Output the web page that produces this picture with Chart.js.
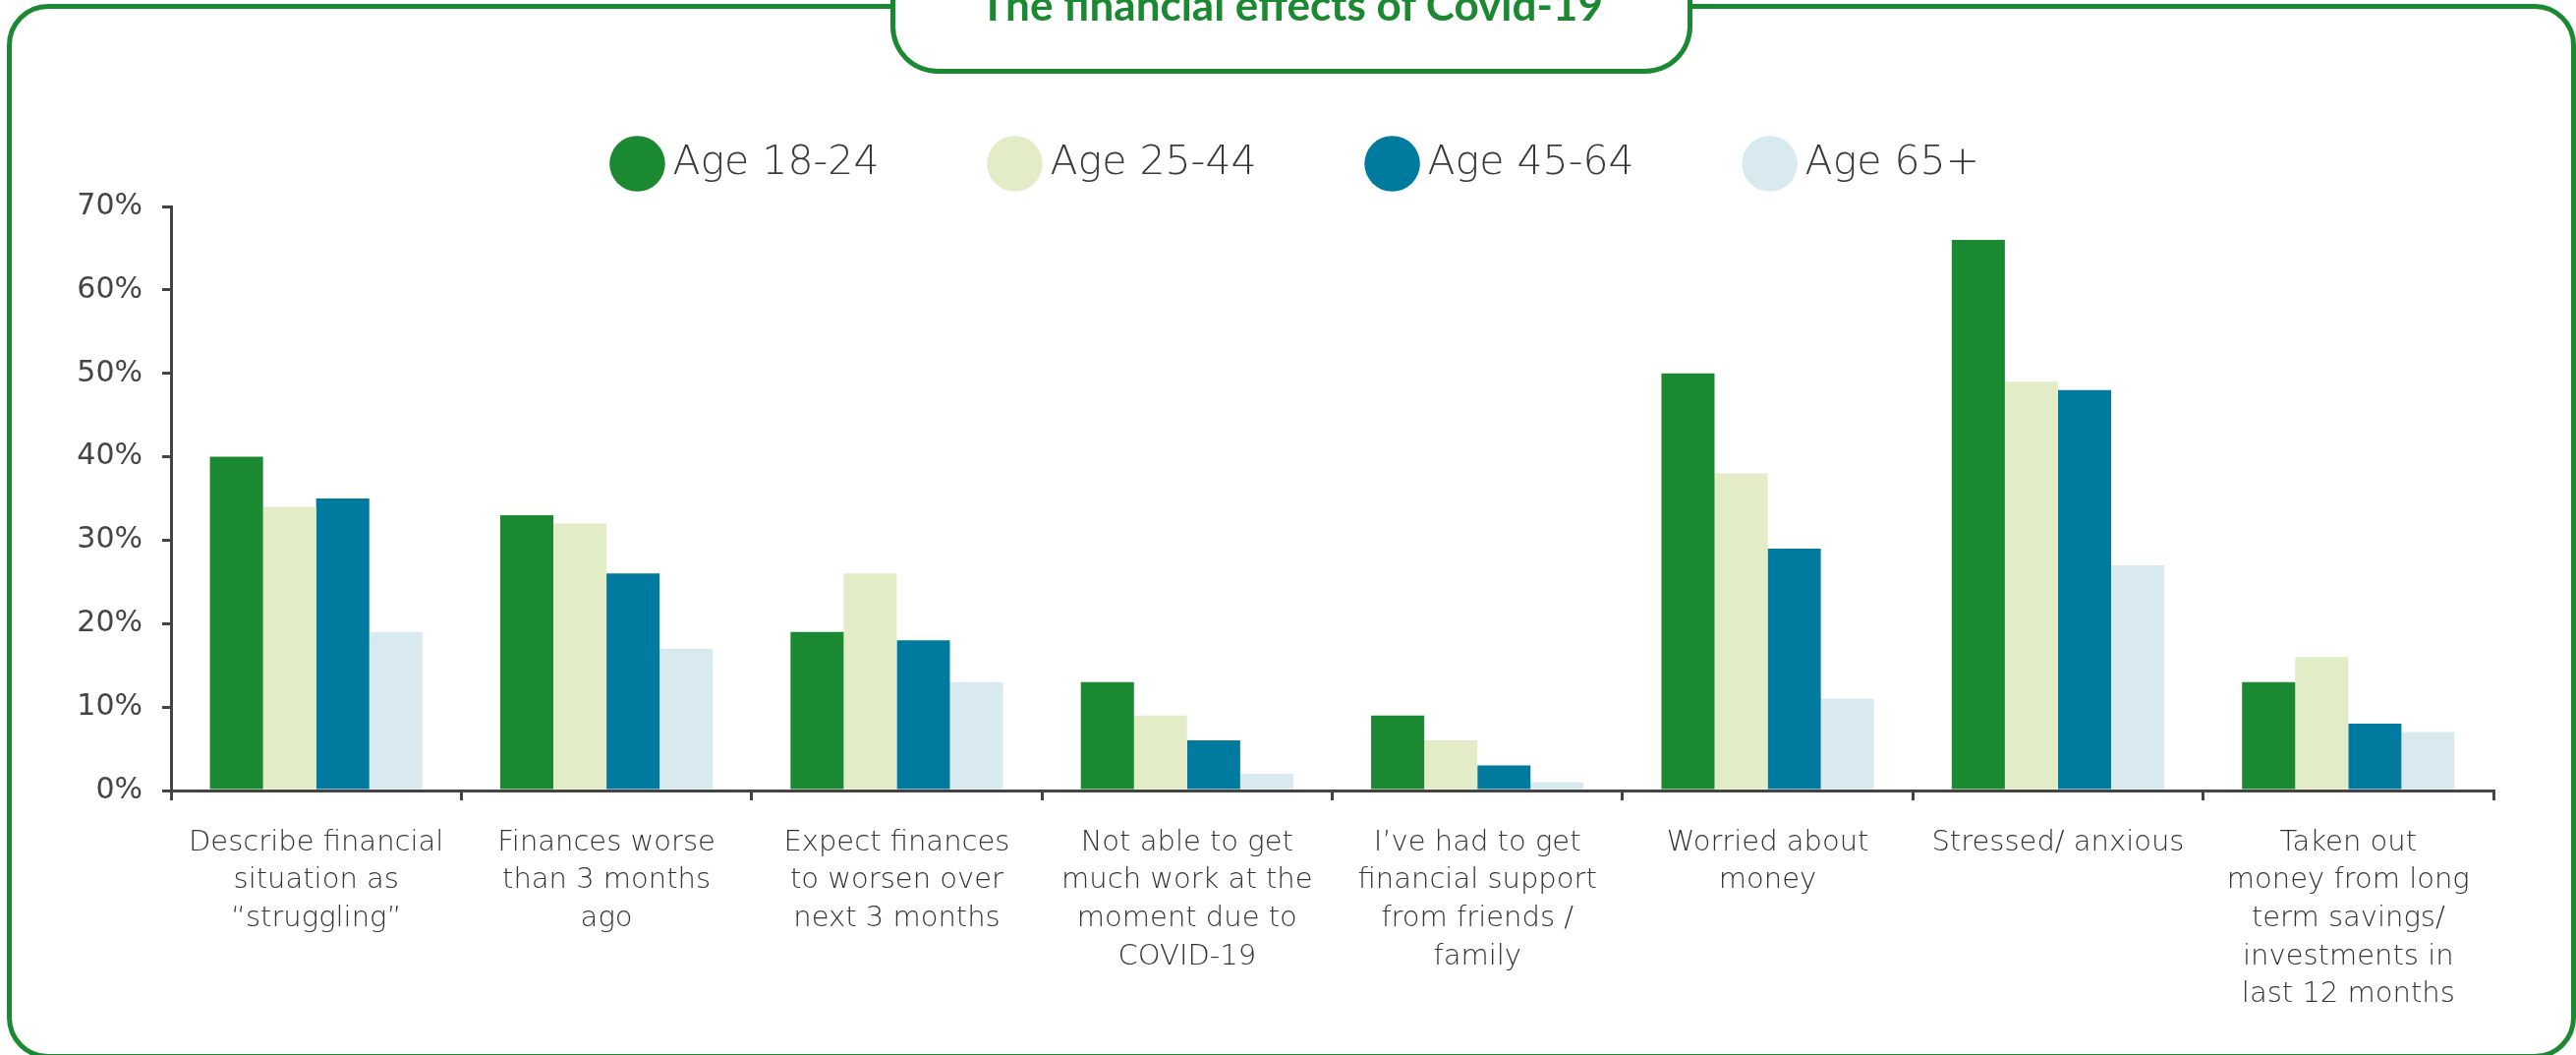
<!DOCTYPE html>
<html>
<head>
<meta charset="utf-8">
<title>The financial effects of Covid-19</title>
<script src="https://cdn.jsdelivr.net/npm/chart.js@4.4.0/dist/chart.umd.min.js"></script>
<style>
  body { margin: 0; background: #fff; }
  #wrap { position: relative; width: 2621px; height: 1073px; overflow: hidden; background: #fff; }
  #marco { position: absolute; left: 7px; top: 4px; width: 2604px; height: 1063px; border: 5px solid #1a8931; border-radius: 42px; }
  #titulo { position: absolute; left: 906px; top: -40px; width: 806px; height: 110px; border: 5px solid #1a8931; border-top: none; border-radius: 0 0 48px 48px; background: #fff; }
  #titulo span { position: absolute; left: 0; right: 0; top: 22px; text-align: center; font: 700 44px Lato, sans-serif; color: #1a8931; line-height: 44px; }
  #grafico { position: absolute; left: 0; top: 0; }
</style>
</head>
<body>
<div id="wrap">
  <div id="marco"></div>
  <canvas id="grafico" width="2621" height="1073"></canvas>
  <div id="titulo"><span>The financial effects of Covid-19</span></div>
</div>
<script>
// datos
var categorias = [
  ['Describe financial', 'situation as', '“struggling”'],
  ['Finances worse', 'than 3 months', 'ago'],
  ['Expect finances', 'to worsen over', 'next 3 months'],
  ['Not able to get', 'much work at the', 'moment due to', 'COVID-19'],
  ['I’ve had to get', 'financial support', 'from friends /', 'family'],
  ['Worried about', 'money'],
  ['Stressed/ anxious'],
  ['Taken out', 'money from long', 'term savings/', 'investments in', 'last 12 months']
];
var series = ['Age 18-24', 'Age 25-44', 'Age 45-64', 'Age 65+'];
var edad18 = [40, 33, 19, 13, 9, 50, 66, 13];
var edad25 = [34, 32, 26, 9, 6, 38, 49, 16];
var edad45 = [35, 26, 18, 6, 3, 29, 48, 8];
var edad65 = [19, 17, 13, 2, 1, 11, 27, 7];
var ticksY = [0, 10, 20, 30, 40, 50, 60, 70];
var colores = ['#1a8931', '#e2edc8', '#007a9f', '#d9e9f0'];

var gris = '#444444';
var valores = [edad18, edad25, edad45, edad65];

var datasets = [];
for (var i = 0; i < series.length; i++) {
  datasets.push({
    label: series[i],
    data: valores[i],
    backgroundColor: colores[i],
    borderWidth: 0,
    barPercentage: 1,
    categoryPercentage: 0.732
  });
}

// legend sits higher than its padding would allow, so fix its height
var ajusteLeyenda = {
  id: 'ajusteLeyenda',
  beforeInit: function (chart) {
    var fitOriginal = chart.legend.fit;
    chart.legend.fit = function () {
      fitOriginal.bind(chart.legend)();
      this.height = 186.5;
    };
  },
  afterLayout: function (chart) {
    chart.legend.left += 18;
    chart.legend.right += 18;
  }
};

new Chart(document.getElementById('grafico'), {
  type: 'bar',
  data: {
    labels: categorias,
    datasets: datasets
  },
  options: {
    responsive: false,
    animation: false,
    devicePixelRatio: 1,
    layout: {
      padding: { top: 23.5, left: 74, right: 84, bottom: 0 }
    },
    plugins: {
      legend: {
        position: 'top',
        labels: {
          usePointStyle: true,
          pointStyle: 'circle',
          boxWidth: 31,
          boxHeight: 40,
          padding: 122.5,
          color: '#3a3a3a',
          font: { family: 'DejaVu Sans', size: 41, weight: 200 }
        }
      },
      tooltip: { enabled: false }
    },
    scales: {
      x: {
        grid: {
          offset: true,
          drawOnChartArea: false,
          drawTicks: true,
          tickLength: 10,
          color: gris,
          lineWidth: 3
        },
        border: { display: true, color: gris, width: 3 },
        ticks: {
          color: '#333333',
          padding: 24,
          maxRotation: 0,
          autoSkip: false,
          font: { family: 'DejaVu Sans', size: 29, weight: 200, lineHeight: 1.33 }
        },
        afterFit: function (scale) { scale.height = 269; }
      },
      y: {
        min: 0,
        max: 70,
        afterBuildTicks: function (scale) {
          scale.ticks = ticksY.map(function (v) { return { value: v }; });
        },
        grid: {
          drawOnChartArea: false,
          drawTicks: true,
          tickLength: 9,
          color: gris,
          lineWidth: 3
        },
        border: { display: true, color: gris, width: 3 },
        ticks: {
          color: gris,
          padding: 20,
          font: { family: 'DejaVu Sans', size: 30 },
          callback: function (v) { return v + '%'; }
        },
        afterFit: function (scale) { scale.width = 100; }
      }
    }
  },
  plugins: [ajusteLeyenda]
});
</script>
</body>
</html>
